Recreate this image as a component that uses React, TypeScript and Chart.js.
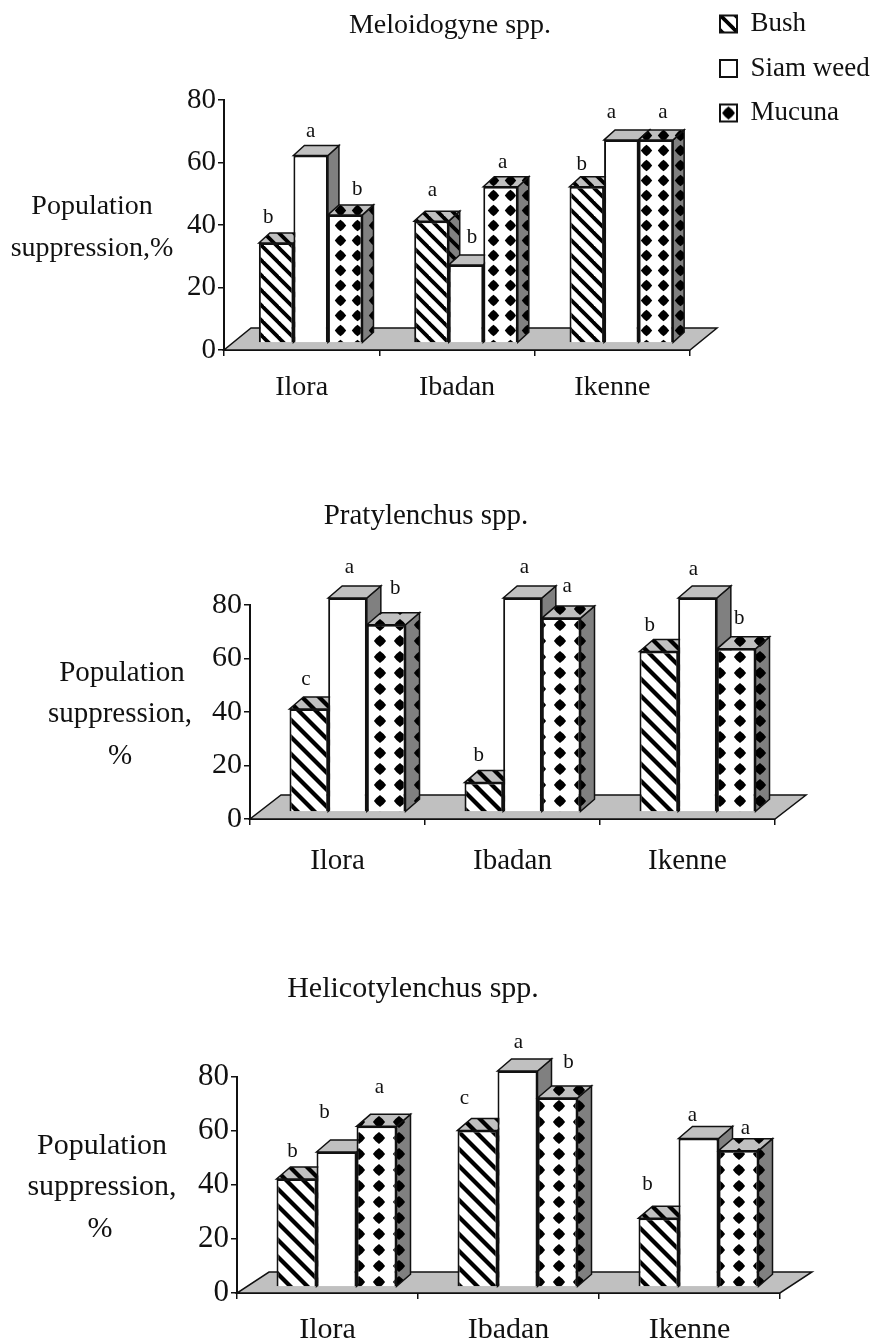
import React, { useEffect, useRef } from "react";
import { Chart, registerables } from "chart.js";

Chart.register(...registerables);

const categories = ["Ilora", "Ibadan", "Ikenne"];
const seriesNames = ["Bush", "Siam weed", "Mucuna"];

const meloidogyneBush = [32, 39, 50];
const meloidogyneSiam = [60, 25, 65];
const meloidogyneMucuna = [41, 50, 65];
const meloidogyneLetters = [["b", "a", "b"], ["a", "b", "a"], ["b", "a", "a"]];

const pratylenchusBush = [38.5, 11, 60];
const pratylenchusSiam = [80, 80, 80];
const pratylenchusMucuna = [70, 72.5, 61];
const pratylenchusLetters = [["c", "a", "b"], ["b", "a", "a"], ["b", "a", "b"]];

const helicoBush = [40, 58, 25.5];
const helicoSiam = [50, 80, 55];
const helicoMucuna = [59.5, 70, 50.5];
const helicoLetters = [["b", "b", "a"], ["c", "a", "b"], ["b", "a", "a"]];

const FONT = "'Liberation Serif', 'Times New Roman', serif";
const INK = "#111111";

type Panel = {
  title: string; titleX: number; titleY: number;
  top: number; height: number; axisX: number; axisRight: number; axisTop: number; axisBottom: number;
  values: number[][]; letters: string[][];
  nudges: number[][][];
  yTitle: { text: string; x: number; y: number }[];
  shiftX: number; shiftY: number; depthX: number; depthY: number; floorX: number; floorY: number;
  catPct: number; labelGap: number; fontSize: number; legend: boolean;
  stripe: number; dotX: number; dotY: number;
};

const panels: Panel[] = [
  {
    title: "Meloidogyne spp.", titleX: 450, titleY: 26, top: 0, height: 430,
    axisX: 224, axisRight: 690, axisTop: 100, axisBottom: 350,
    values: [meloidogyneBush, meloidogyneSiam, meloidogyneMucuna], letters: meloidogyneLetters,
    nudges: [[[-8, -26], [0, -24], [12, -25]], [[1, -31], [6, -27], [2, -24]], [[-5, -22], [-10, -27], [7, -27]]],
    yTitle: [{ text: "Population", x: 92, y: 207 }, { text: "suppression,%", x: 92, y: 249 }],
    shiftX: 9, shiftY: 7, depthX: 11, depthY: 10, floorX: 27, floorY: 22, catPct: 0.667, labelGap: 15, fontSize: 28, legend: true,
    stripe: 15, dotX: 17, dotY: 15,
  },
  {
    title: "Pratylenchus spp.", titleX: 426, titleY: 516, top: 480, height: 420,
    axisX: 250, axisRight: 775, axisTop: 605, axisBottom: 819,
    values: [pratylenchusBush, pratylenchusSiam, pratylenchusMucuna], letters: pratylenchusLetters,
    nudges: [[[-3, -30], [2, -31], [9, -36]], [[-5, -27], [2, -31], [6, -32]], [[-9, -26], [-4, -29], [3, -30]]],
    yTitle: [{ text: "Population", x: 122, y: 673 }, { text: "suppression,", x: 120, y: 714 }, { text: "%", x: 120, y: 756 }],
    shiftX: 10, shiftY: 7, depthX: 14, depthY: 12, floorX: 31, floorY: 24, catPct: 0.663, labelGap: 19, fontSize: 29, legend: false,
    stripe: 17, dotX: 20, dotY: 16,
  },
  {
    title: "Helicotylenchus spp.", titleX: 413, titleY: 989, top: 960, height: 380,
    axisX: 237, axisRight: 780, axisTop: 1077, axisBottom: 1293,
    values: [helicoBush, helicoSiam, helicoMucuna], letters: helicoLetters,
    nudges: [[[-4, -28], [-12, -40], [3, -39]], [[-13, -32], [1, -29], [11, -36]], [[-11, -34], [-6, -23], [7, -22]]],
    yTitle: [{ text: "Population", x: 102, y: 1146 }, { text: "suppression,", x: 102, y: 1187 }, { text: "%", x: 100, y: 1229 }],
    shiftX: 9, shiftY: 6, depthX: 14, depthY: 12, floorX: 32, floorY: 21, catPct: 0.663, labelGap: 13, fontSize: 30, legend: false,
    stripe: 17, dotX: 20, dotY: 16,
  },
];

function tile(w: number, h: number, paint: (c: CanvasRenderingContext2D) => void): CanvasPattern {
  const off = document.createElement("canvas");
  off.width = Math.round(w);
  off.height = Math.round(h);
  const c = off.getContext("2d") as CanvasRenderingContext2D;
  paint(c);
  return c.createPattern(off, "repeat") as CanvasPattern;
}

function stripePattern(bg: string, size: number): CanvasPattern {
  return tile(size, size, (c) => {
    c.fillStyle = bg;
    c.fillRect(0, 0, size, size);
    c.strokeStyle = "#000";
    c.lineWidth = size * 0.25;
    for (const o of [-size, 0, size]) {
      c.beginPath();
      c.moveTo(o - 2, -2);
      c.lineTo(o + size + 2, size + 2);
      c.stroke();
    }
  });
}

function dotPattern(bg: string, w: number, h: number): CanvasPattern {
  return tile(w, h, (c) => {
    const W = Math.round(w), H = Math.round(h), r = Math.min(W, H) * 0.38;
    const k = 0.6;
    c.fillStyle = bg;
    c.fillRect(0, 0, W, H);
    c.fillStyle = "#000";
    c.beginPath();
    c.moveTo(W / 2, H / 2 - r);
    c.quadraticCurveTo(W / 2 + r * k, H / 2 - r * k, W / 2 + r, H / 2);
    c.quadraticCurveTo(W / 2 + r * k, H / 2 + r * k, W / 2, H / 2 + r);
    c.quadraticCurveTo(W / 2 - r * k, H / 2 + r * k, W / 2 - r, H / 2);
    c.quadraticCurveTo(W / 2 - r * k, H / 2 - r * k, W / 2, H / 2 - r);
    c.fill();
  });
}

function face(ctx: CanvasRenderingContext2D, pts: number[][], fill: string | CanvasPattern) {
  ctx.beginPath();
  pts.forEach((p, i) => (i ? ctx.lineTo(p[0], p[1]) : ctx.moveTo(p[0], p[1])));
  ctx.closePath();
  ctx.fillStyle = fill;
  ctx.fill();
  ctx.lineWidth = 1.5;
  ctx.strokeStyle = INK;
  ctx.stroke();
}

function makeChart(canvas: HTMLCanvasElement, p: Panel): Chart {
  const fronts = [stripePattern("#ffffff", p.stripe), "#ffffff", dotPattern("#ffffff", p.dotX, p.dotY)];
  const tops = [stripePattern("#c0c0c0", p.stripe), "#c0c0c0", dotPattern("#c0c0c0", p.dotX, p.dotY)];
  const sides = [stripePattern("#808080", p.stripe), "#808080", dotPattern("#808080", p.dotX, p.dotY)];

  const legendFont = 27, legendRow = 44.5, legendBox = 17, legendLeft = 720, legendFirstCenter = 24;
  const legendDot = dotPattern("#ffffff", legendBox, legendBox);
  legendDot.setTransform(new DOMMatrix().translate(legendLeft, legendFirstCenter + 2 * legendRow - legendBox / 2));

  const threeD = {
    id: "threeD",
    afterLayout(chart: any) {
      if (chart.titleBlock) {
        const t = chart.titleBlock;
        const h = t.height;
        t.left = p.titleX - 250;
        t.right = p.titleX + 250;
        t.top = p.titleY - p.top - h / 2;
        t.bottom = t.top + h;
      }
      if (p.legend && chart.legend) {
        const l = chart.legend;
        const pad = legendRow - legendFont;
        const w = l.width, h = l.height;
        l.left = legendLeft - pad;
        l.right = l.left + w;
        l.top = legendFirstCenter - legendFont / 2 - pad;
        l.bottom = l.top + h + 40;
      }
    },
    beforeDatasetsDraw(chart: any) {
      const ctx: CanvasRenderingContext2D = chart.ctx;
      const { left, right, bottom } = chart.chartArea;
      ctx.save();
      face(ctx, [[left, bottom], [right, bottom], [right + p.floorX, bottom - p.floorY], [left + p.floorX, bottom - p.floorY]], "#c0c0c0");
      ctx.restore();

      chart.data.datasets.forEach((_d: any, i: number) => {
        const meta = chart.getDatasetMeta(i);
        ctx.save();
        ctx.translate(p.shiftX, -p.shiftY);
        meta.data.forEach((bar: any) => {
          const l = bar.x - bar.width / 2, r = bar.x + bar.width / 2;
          face(ctx, [[r, bar.y], [r + p.depthX, bar.y - p.depthY], [r + p.depthX, bar.base - p.depthY], [r, bar.base]], sides[i]);
          face(ctx, [[l, bar.y], [l + p.depthX, bar.y - p.depthY], [r + p.depthX, bar.y - p.depthY], [r, bar.y]], tops[i]);
        });
        meta.controller.draw();
        ctx.restore();
      });
    },
    beforeDatasetDraw() {
      return false;
    },
    afterDatasetsDraw(chart: any) {
      const ctx: CanvasRenderingContext2D = chart.ctx;
      ctx.save();
      ctx.fillStyle = INK;
      ctx.textAlign = "center";
      ctx.textBaseline = "middle";
      ctx.font = `21px ${FONT}`;
      chart.data.datasets.forEach((_d: any, s: number) => {
        chart.getDatasetMeta(s).data.forEach((bar: any, c: number) => {
          const n = p.nudges[c][s];
          ctx.fillText(p.letters[c][s], bar.x + p.shiftX + n[0], bar.y - p.shiftY + n[1]);
        });
      });
      ctx.font = `${p.fontSize}px ${FONT}`;
      p.yTitle.forEach((t) => ctx.fillText(t.text, t.x, t.y - p.top));
      ctx.restore();
    },
  };

  const yW = 60, xH = Math.min(60, p.height - (p.axisBottom - p.top)), titleH = p.fontSize * 1.2;
  return new Chart(canvas, {
    type: "bar",
    data: {
      labels: categories,
      datasets: seriesNames.map((name, i) => ({
        label: name,
        data: p.values[i],
        backgroundColor: fronts[i],
        borderColor: INK,
        borderWidth: 2,
        barPercentage: 1,
        categoryPercentage: p.catPct,
      })),
    },
    options: {
      responsive: false,
      animation: false,
      events: [],
      layout: {
        padding: {
          left: p.axisX - yW,
          right: 872 - p.axisRight,
          top: p.axisTop - p.top - titleH,
          bottom: p.height - (p.axisBottom - p.top) - xH,
        },
      },
      scales: {
        x: {
          afterFit: (s: any) => { s.height = xH; },
          grid: { offset: true, drawOnChartArea: false, tickLength: 6, color: INK, lineWidth: 1.5 },
          border: { color: INK, width: 2 },
          ticks: { color: INK, padding: p.labelGap, maxRotation: 0, font: { family: FONT, size: p.fontSize } },
        },
        y: {
          min: 0,
          max: 80,
          afterFit: (s: any) => { s.width = yW; },
          grid: { drawOnChartArea: false, tickLength: 6, color: INK, lineWidth: 1.5 },
          border: { color: INK, width: 2 },
          ticks: { stepSize: 20, color: INK, padding: 2, font: { family: FONT, size: p.fontSize + 1 } },
        },
      },
      plugins: {
        tooltip: { enabled: false },
        title: { display: true, text: p.title, color: INK, padding: 0, font: { family: FONT, size: p.fontSize, weight: "normal", lineHeight: 1.2 } },
        legend: {
          display: p.legend,
          position: "chartArea",
          align: "start",
          labels: {
            color: INK,
            boxWidth: legendBox,
            boxHeight: legendBox,
            padding: legendRow - legendFont,
            font: { family: FONT, size: legendFont },
            generateLabels: (chart: any) =>
              Chart.defaults.plugins.legend.labels.generateLabels(chart).map((item: any, i: number) =>
                i === 2 ? { ...item, fillStyle: legendDot } : item
              ),
          },
        },
      },
    },
    plugins: [threeD],
  } as any);
}

function PanelChart({ panel }: { panel: Panel }) {
  const ref = useRef<HTMLCanvasElement | null>(null);
  useEffect(() => {
    const chart = makeChart(ref.current as HTMLCanvasElement, panel);
    return () => chart.destroy();
  }, [panel]);
  return (
    <canvas
      ref={ref}
      width={872}
      height={panel.height}
      style={{ position: "absolute", left: 0, top: panel.top, width: 872, height: panel.height, display: "block" }}
    />
  );
}

export default function App() {
  return (
    <div style={{ position: "absolute", left: 0, top: 0, width: 872, height: 1340, background: "#fff", overflow: "hidden" }}>
      {panels.map((p) => (
        <PanelChart key={p.title} panel={p} />
      ))}
    </div>
  );
}
